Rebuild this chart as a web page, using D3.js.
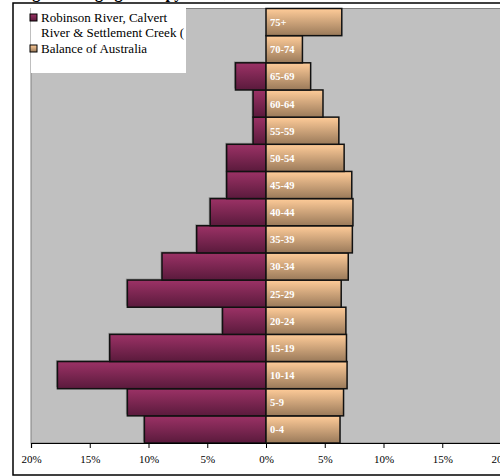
<!DOCTYPE html>
<html lang="en">
<head>
    <meta charset="UTF-8">
    <title>Age pyramid</title>
    <script src="https://cdn.jsdelivr.net/npm/d3@7/dist/d3.min.js"></script>
    <style>
        body { margin: 0; background: #fff; }
        svg { display: block; }
    </style>
</head>
<body>
    <script>
        var width = 500;
        var height = 476;

        // data (percent of population)
        var ageGroups = ["0-4","5-9","10-14","15-19","20-24","25-29","30-34","35-39",
                         "40-44","45-49","50-54","55-59","60-64","65-69","70-74","75+"];
        var robinson = [10.35, 11.8, 17.75, 13.3, 3.7, 11.8, 8.85, 5.9,
                        4.75, 3.35, 3.35, 1.1, 1.1, 2.6, 0, 0];
        var balance  = [6.3, 6.6, 6.9, 6.85, 6.8, 6.4, 7.0, 7.35,
                        7.4, 7.3, 6.65, 6.2, 4.85, 3.8, 3.1, 6.45];
        var tickValues = [-20, -15, -10, -5, 0, 5, 10, 15, 20];
        var seriesNames = ["Robinson River, Calvert|River & Settlement Creek (", "Balance of Australia"];

        var plot = { left: 31, top: 8.5, right: 501, bottom: 443 };

        var svg = d3.select("body").append("svg").attr("width", width).attr("height", height);

        // gradients
        var defs = svg.append("defs");
        var g1 = defs.append("linearGradient").attr("id", "purp").attr("x1", 0).attr("y1", 0).attr("x2", 0).attr("y2", 1);
        g1.append("stop").attr("offset", "0%").attr("stop-color", "#9c3266");
        g1.append("stop").attr("offset", "100%").attr("stop-color", "#5a1a3c");
        var g2 = defs.append("linearGradient").attr("id", "tan").attr("x1", 0).attr("y1", 0).attr("x2", 0).attr("y2", 1);
        g2.append("stop").attr("offset", "0%").attr("stop-color", "#ffcc99");
        g2.append("stop").attr("offset", "100%").attr("stop-color", "#9a7a5a");

        // title (mostly cut off at top, as in the original)
        svg.append("text")
            .attr("x", 18).attr("y", -2)
            .attr("font-family", "Liberation Serif, serif")
            .attr("font-weight", "bold").attr("font-size", 16)
            .text("Figure 8: Age/gender pyramid, Robinson River, Calvert River & Settlement Creek, 2001");

        // outer frame
        svg.append("rect")
            .attr("x", 13).attr("y", 3).attr("width", 500).attr("height", 472)
            .attr("fill", "#fff").attr("stroke", "#000").attr("stroke-width", 1.5);

        var x = d3.scaleLinear().domain([-20, 20]).range([plot.left, plot.right]);
        var y = d3.scaleBand().domain(ageGroups.slice().reverse()).range([plot.top, plot.bottom]).padding(0);

        // plot area
        svg.append("rect")
            .attr("x", plot.left).attr("y", plot.top)
            .attr("width", plot.right - plot.left).attr("height", plot.bottom - plot.top)
            .attr("fill", "#c0c0c0").attr("stroke", "#808080").attr("stroke-width", 1);

        // shadows behind the left bars
        var shadow = svg.append("g").attr("fill", "#7a7a7a").attr("opacity", 0.6);
        shadow.selectAll("rect").data(ageGroups).enter().append("rect")
            .filter(function(d, i) { return robinson[i] > 0; })
            .attr("x", function(d) { return x(-robinson[ageGroups.indexOf(d)]) - 1.5; })
            .attr("y", function(d) { return y(d) - 1.5; })
            .attr("width", function(d) { return x(0) - x(-robinson[ageGroups.indexOf(d)]); })
            .attr("height", y.bandwidth());

        // left bars
        svg.append("g").selectAll("rect").data(ageGroups).enter().append("rect")
            .filter(function(d, i) { return robinson[i] > 0; })
            .attr("x", function(d) { return x(-robinson[ageGroups.indexOf(d)]); })
            .attr("y", function(d) { return y(d); })
            .attr("width", function(d) { return x(0) - x(-robinson[ageGroups.indexOf(d)]); })
            .attr("height", y.bandwidth())
            .attr("fill", "url(#purp)").attr("stroke", "#111").attr("stroke-width", 1.5);

        // right bars
        svg.append("g").selectAll("rect").data(ageGroups).enter().append("rect")
            .attr("x", x(0))
            .attr("y", function(d) { return y(d); })
            .attr("width", function(d, i) { return x(balance[i]) - x(0); })
            .attr("height", y.bandwidth())
            .attr("fill", "url(#tan)").attr("stroke", "#111").attr("stroke-width", 1.5);

        // age labels
        svg.append("g").selectAll("text").data(ageGroups).enter().append("text")
            .attr("x", x(0) + 4)
            .attr("y", function(d) { return y(d) + y.bandwidth() / 2 + 4; })
            .attr("fill", "#fff")
            .attr("font-family", "Liberation Serif, serif")
            .attr("font-weight", "bold").attr("font-size", 10.5)
            .text(function(d) { return d; });

        // x axis
        var axis = d3.axisBottom(x).tickValues(tickValues).tickSize(5).tickPadding(7)
            .tickFormat(function(d) { return Math.abs(d) + "%"; });
        var ax = svg.append("g").attr("transform", "translate(0," + plot.bottom + ")").call(axis)
            .attr("font-family", "Liberation Serif, serif").attr("font-size", 11);
        ax.select(".domain").attr("stroke", "#000").attr("stroke-width", 1.2);
        ax.selectAll("line").attr("stroke", "#000");
        ax.selectAll("text").style("font-family", "'Liberation Serif', serif").attr("fill", "#000");

        // legend
        var leg = svg.append("g");
        leg.append("rect").attr("x", plot.left).attr("y", plot.top - 0.5).attr("width", 155).attr("height", 65).attr("fill", "#fff");
        var fills = ["url(#purp)", "url(#tan)"];
        var rowY = [14, 45];
        seriesNames.forEach(function(name, i) {
            leg.append("rect").attr("x", 30).attr("y", rowY[i]).attr("width", 7).attr("height", 7)
                .attr("fill", fills[i]).attr("stroke", "#000").attr("stroke-width", 1);
            name.split("|").forEach(function(line, j) {
                leg.append("text")
                    .attr("x", 41).attr("y", rowY[i] + 8 + j * 15)
                    .attr("font-family", "Liberation Serif, serif").attr("font-size", 13)
                    .text(line);
            });
        });
    </script>
</body>
</html>
